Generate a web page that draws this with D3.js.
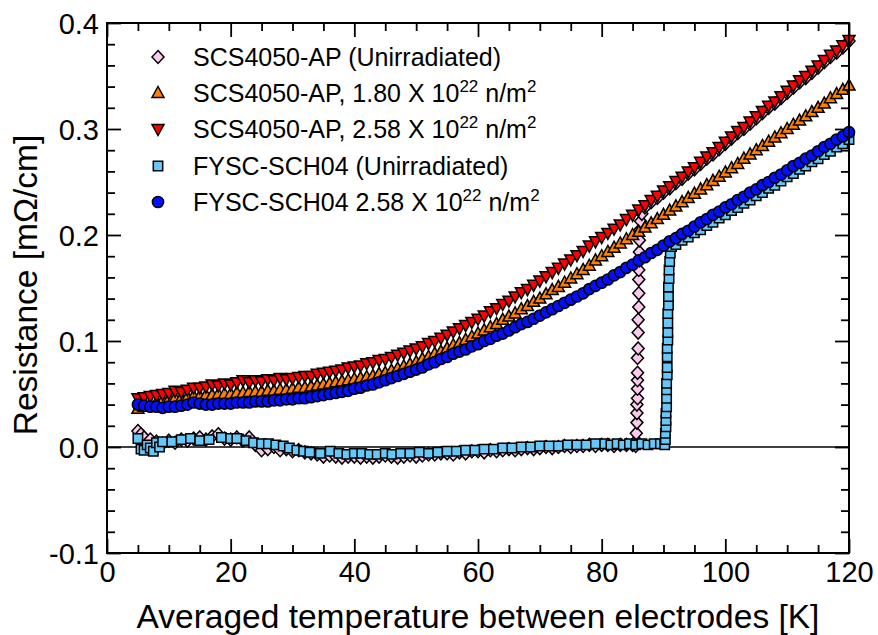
<!DOCTYPE html>
<html lang="en">
<head>
<meta charset="UTF-8">
<title>Resistance vs temperature</title>
<script src="https://d3js.org/d3.v7.min.js"></script>
<style>
  body { margin: 0; background: #fff; }
  svg { display: block; font-family: "Liberation Sans", Arial, Helvetica, sans-serif; }
  .axis path { display: none; }
  .axis line { stroke: #000; stroke-width: 1.8px; }
  .axis text { font-size: 29px; fill: #000; font-family: "Liberation Sans", Arial, sans-serif; }
  .title { font-size: 33.5px; fill: #000; }
  .legend text { font-size: 25px; fill: #000; }
  .pt { stroke: #000; stroke-width: 1.5px; }
</style>
</head>
<body>
<svg width="878" height="635"></svg>
<script>
// [temperature K, resistance mOhm/cm]
const scsUnirr = [
  [5,.015],[5.5,.012],[6,.009],[7,.007],[8,.005],[9,.003],[10,.006],[11,.004],[12,.007],[13,.006],
  [14,.008],[15,.009],[16,.007],[17,.010],[18,.012],[19,.008],[20,.007],[21,.009],[22,.006],[23,.009],
  [24,.002],[25,-.003],[26,-.002],[27,.000],[28,-.003],[29,-.002],[30,-.004],[31,-.003],[32,-.005],[33,-.006],
  [34,-.007],[35,-.009],[36,-.008],[37,-.009],[38,-.010],[39,-.009],[40,-.009],[41,-.010],[42,-.009],[43,-.010],
  [44,-.009],[45,-.008],[46,-.009],[47,-.010],[48,-.009],[49,-.008],[50,-.009],[51,-.008],[52,-.007],[53,-.007],
  [54,-.006],[55,-.006],[56,-.007],[57,-.005],[58,-.006],[59,-.004],[60,-.004],[61,-.005],[62,-.003],[63,-.004],
  [64,-.003],[65,-.002],[66,-.003],[67,-.002],[68,-.001],[69,-.002],[70,-.001],[71,.000],[72,-.001],[73,.000],
  [74,.001],[75,.000],[76,.001],[77,.001],[78,.002],[79,.001],[80,.002],[81,.002],[82,.001],[83,.002],
  [84,.002],[85,.002],[85.5,.001],
  [85.6,.006],[85.6,.013],[85.7,.023],[85.7,.032],[85.7,.040],[85.8,.046],[85.8,.055],[85.8,.063],[85.8,.070],
  [85.8,.084],[85.9,.093],[85.9,.108],[85.9,.120],[86.0,.132],[86.0,.145],[86.0,.158],[86.0,.167],[86.1,.176],
  [86.1,.184],[86.1,.195],[86.2,.205],[86.3,.213],[86.5,.220],
  [87,.226],[88,.231],[89,.235],[90,.240],[91,.244],[92,.249],[93,.253],[94,.258],[95,.262],[96,.267],
  [97,.272],[98,.276],[99,.281],[100,.286],[101,.291],[102,.296],[103,.300],[104,.305],[105,.310],[106,.315],
  [107,.320],[108,.324],[109,.329],[110,.334],[111,.339],[112,.344],[113,.348],[114,.353],[115,.358],[116,.363],
  [117,.368],[118,.372],[119,.377],[120,.383]
];

const scs180 = [
  [5,.036],[6,.038],[7,.040],[8,.042],[9,.044],[10,.045],[11,.046],[12,.046],[13,.047],[14,.048],
  [15,.048],[16,.049],[17,.049],[18,.050],[19,.050],[20,.050],[21,.051],[22,.051],[23,.052],[24,.052],
  [25,.052],[26,.053],[27,.053],[28,.054],[29,.054],[30,.055],[31,.056],[32,.056],[33,.057],[34,.058],
  [35,.059],[36,.060],[37,.061],[38,.062],[39,.063],[40,.064],[41,.065],[42,.066],[43,.067],[44,.069],
  [45,.070],[46,.072],[47,.074],[48,.076],[49,.078],[50,.080],[51,.083],[52,.085],[53,.088],[54,.090],
  [55,.093],[56,.096],[57,.098],[58,.101],[59,.104],[60,.107],[61,.110],[62,.113],[63,.116],[64,.120],
  [65,.123],[66,.126],[67,.130],[68,.133],[69,.137],[70,.140],[71,.144],[72,.148],[73,.151],[74,.155],
  [75,.159],[76,.163],[77,.167],[78,.171],[79,.176],[80,.180],[81,.184],[82,.188],[83,.192],[84,.196],
  [85,.200],[86,.203],[87,.207],[88,.211],[89,.215],[90,.219],[91,.223],[92,.227],[93,.231],[94,.235],
  [95,.239],[96,.243],[97,.247],[98,.251],[99,.255],[100,.259],[101,.263],[102,.267],[103,.272],[104,.276],
  [105,.280],[106,.284],[107,.288],[108,.292],[109,.296],[110,.300],[111,.304],[112,.308],[113,.312],[114,.316],
  [115,.320],[116,.324],[117,.329],[118,.333],[119,.337],[120,.341]
];

const scs258 = [
  [5,.046],[6,.047],[7,.048],[8,.049],[9,.050],[10,.051],[11,.053],[12,.052],[13,.054],[14,.056],
  [15,.056],[16,.057],[17,.059],[18,.058],[19,.060],[20,.059],[21,.061],[22,.063],[23,.061],[24,.063],
  [25,.062],[26,.064],[27,.063],[28,.065],[29,.064],[30,.065],[31,.066],[32,.067],[33,.067],[34,.069],
  [35,.070],[36,.071],[37,.072],[38,.073],[39,.075],[40,.076],[41,.077],[42,.079],[43,.080],[44,.082],
  [45,.083],[46,.085],[47,.087],[48,.089],[49,.091],[50,.093],[51,.095],[52,.098],[53,.100],[54,.103],
  [55,.106],[56,.109],[57,.112],[58,.115],[59,.118],[60,.121],[61,.124],[62,.128],[63,.131],[64,.135],
  [65,.138],[66,.142],[67,.146],[68,.149],[69,.153],[70,.157],[71,.161],[72,.165],[73,.169],[74,.173],
  [75,.177],[76,.181],[77,.185],[78,.190],[79,.194],[80,.198],[81,.202],[82,.206],[83,.210],[84,.215],
  [85,.219],[86,.224],[87,.228],[88,.233],[89,.237],[90,.242],[91,.246],[92,.251],[93,.255],[94,.260],
  [95,.264],[96,.269],[97,.274],[98,.278],[99,.283],[100,.288],[101,.293],[102,.298],[103,.302],[104,.307],
  [105,.312],[106,.317],[107,.322],[108,.326],[109,.331],[110,.336],[111,.341],[112,.346],[113,.350],[114,.355],
  [115,.360],[116,.365],[117,.370],[118,.374],[119,.379],[120,.384]
];

const fyscUnirr = [
  [5,.008],[5.5,-.002],[6,-.003],[6.5,.002],[7,-.001],[7.5,-.004],[8,.004],[8.5,.000],[9,.005],[10.5,.005],
  [12,.007],[13.5,.008],[15,.006],[16.5,.007],[18.5,.009],[20,.008],[21,.008],[22.5,.006],[23.7,.004],[25,.003],
  [26.1,.003],[27.3,.002],[28.5,.001],[29.5,-.001],[30.7,-.003],[31.8,-.004],[32.8,-.005],[34.5,-.006],[36.1,-.004],[37.5,-.006],
  [38.8,-.007],[40,-.006],[41.2,-.006],[42.5,-.007],[43.7,-.007],[45,-.006],[46.1,-.007],[47.5,-.006],[49,-.006],[50.5,-.005],
  [52,-.006],[53.5,-.005],[55,-.004],[56.5,-.004],[58,-.003],[59.5,-.003],[61,-.002],[62.5,-.002],[64,-.001],[65.5,-.001],
  [67,.000],[68.5,.000],[70,.001],[71.5,.001],[73,.001],[74.5,.002],[76,.002],[77.5,.002],[79,.003],[80.5,.003],
  [81.5,.002],[82.5,.003],[83.5,.002],[84.5,.003],[85.5,.002],[86.5,.003],[87.5,.002],[88.5,.003],[89.5,.003],[90.2,.002],
  [90.3,.007],[90.3,.013],[90.4,.019],[90.4,.025],[90.4,.032],[90.5,.038],[90.5,.046],[90.5,.054],[90.5,.060],[90.6,.068],
  [90.6,.075],[90.6,.085],[90.6,.093],[90.7,.101],[90.7,.108],[90.7,.117],[90.7,.126],[90.8,.134],[90.8,.142],[90.8,.151],
  [90.9,.159],[90.9,.167],[91.0,.175],[91.1,.183],[91.3,.189],
  [92,.191],[93,.195],[94,.198],[95,.202],[96,.205],[97,.209],[98,.212],[99,.216],[100,.219],[101,.223],
  [102,.226],[103,.230],[104,.233],[105,.237],[106,.240],[107,.244],[108,.247],[109,.251],[110,.255],[111,.258],
  [112,.262],[113,.265],[114,.269],[115,.272],[116,.276],[117,.279],[118,.283],[119,.286],[120,.290]
];

const fysc258 = [
  [5,.040],[6,.039],[7,.038],[8,.038],[9,.037],[10,.038],[11,.038],[12,.039],[13,.040],[14,.042],
  [15,.041],[16,.040],[17,.040],[18,.041],[19,.041],[20,.041],[21,.042],[22,.042],[23,.042],[24,.043],
  [25,.043],[26,.043],[27,.044],[28,.044],[29,.045],[30,.045],[31,.046],[32,.046],[33,.047],[34,.048],
  [35,.049],[36,.050],[37,.051],[38,.052],[39,.053],[40,.055],[41,.056],[42,.058],[43,.059],[44,.061],
  [45,.063],[46,.065],[47,.067],[48,.069],[49,.071],[50,.073],[51,.075],[52,.078],[53,.080],[54,.083],
  [55,.085],[56,.088],[57,.090],[58,.092],[59,.095],[60,.097],[61,.100],[62,.102],[63,.105],[64,.107],
  [65,.110],[66,.113],[67,.116],[68,.118],[69,.121],[70,.124],[71,.127],[72,.130],[73,.133],[74,.136],
  [75,.139],[76,.142],[77,.145],[78,.149],[79,.152],[80,.155],[81,.158],[82,.162],[83,.165],[84,.169],
  [85,.172],[86,.176],[87,.179],[88,.183],[89,.186],[90,.190],[91,.194],[92,.197],[93,.201],[94,.204],
  [95,.208],[96,.212],[97,.215],[98,.219],[99,.222],[100,.226],[101,.229],[102,.233],[103,.236],[104,.240],
  [105,.243],[106,.247],[107,.250],[108,.254],[109,.257],[110,.261],[111,.265],[112,.268],[113,.272],[114,.275],
  [115,.279],[116,.283],[117,.286],[118,.290],[119,.293],[120,.297]
];

const xTicks = [0, 20, 40, 60, 80, 100, 120];
const yTicks = [-0.1, 0.0, 0.1, 0.2, 0.3, 0.4];

// legend entries: label text, superscript pieces
const series = [
  { data: scsUnirr,  shape: "diamond", fill: "#fcc8ec", label: ["SCS4050-AP (Unirradiated)"] },
  { data: scs180,    shape: "up",      fill: "#ff8000", label: ["SCS4050-AP, 1.80 X 10", "22", " n/m", "2"] },
  { data: scs258,    shape: "down",    fill: "#ff0000", label: ["SCS4050-AP, 2.58 X 10", "22", " n/m", "2"] },
  { data: fyscUnirr, shape: "square",  fill: "#66c8f8", label: ["FYSC-SCH04 (Unirradiated)"] },
  { data: fysc258,   shape: "circle",  fill: "#0010ff", label: ["FYSC-SCH04 2.58 X 10", "22", " n/m", "2"] }
];

const svg = d3.select("svg");
const pLeft = 107, pRight = 849, pTop = 23, pBottom = 553;

const x = d3.scaleLinear().domain([0, 120]).range([pLeft, pRight]);
const y = d3.scaleLinear().domain([-0.1, 0.4]).range([pBottom, pTop]);

const xMinor = d3.range(0, 121, 5).filter(v => v % 20 !== 0);
const yMinor = d3.range(-10, 41, 2).filter(v => v % 10 !== 0).map(v => v / 100);

function addAxis(axisFn, scale, tr, ticks, size, labels) {
  const a = axisFn(scale).tickValues(ticks).tickSizeInner(-size).tickSizeOuter(0);
  if (labels) a.tickFormat(labels).tickPadding(8);
  else a.tickFormat("");
  return svg.append("g").attr("class", "axis").attr("transform", tr).call(a);
}

// minor ticks
addAxis(d3.axisBottom, x, `translate(0,${pBottom})`, xMinor, 8);
addAxis(d3.axisTop, x, `translate(0,${pTop})`, xMinor, 8);
addAxis(d3.axisLeft, y, `translate(${pLeft},0)`, yMinor, 8);
addAxis(d3.axisRight, y, `translate(${pRight},0)`, yMinor, 8);
// major ticks
addAxis(d3.axisBottom, x, `translate(0,${pBottom})`, xTicks, 14, d => d3.format("d")(d));
addAxis(d3.axisTop, x, `translate(0,${pTop})`, xTicks, 14);
addAxis(d3.axisLeft, y, `translate(${pLeft},0)`, yTicks, 14, d => d.toFixed(1)).selectAll("text").attr("dy", "0.36em");
addAxis(d3.axisRight, y, `translate(${pRight},0)`, yTicks, 14);

// zero line
svg.append("line")
  .attr("x1", x(0)).attr("x2", x(120))
  .attr("y1", y(0)).attr("y2", y(0))
  .attr("stroke", "#000").attr("stroke-width", 1.3);

function shapePath(kind) {
  switch (kind) {
    case "diamond": return "M0,-6.5L6,0L0,6.5L-6,0Z";
    case "up": return "M0,-6.5L6,4.5L-6,4.5Z";
    case "down": return "M0,6.5L6,-4.5L-6,-4.5Z";
    case "square": return "M-4.7,-4.7H4.7V4.7H-4.7Z";
  }
}

function drawMarker(sel, s) {
  if (s.shape === "circle") {
    sel.append("circle").attr("r", 5.6).attr("class", "pt").attr("fill", s.fill);
  } else {
    sel.append("path").attr("d", shapePath(s.shape)).attr("class", "pt").attr("fill", s.fill);
  }
}

const plot = svg.append("g");
series.forEach(s => {
  const g = plot.append("g");
  g.selectAll("g")
    .data(s.data)
    .join("g")
    .attr("transform", d => `translate(${x(d[0])},${y(d[1])})`)
    .each(function () { drawMarker(d3.select(this), s); });
});

// frame
svg.append("rect")
  .attr("x", pLeft).attr("y", pTop)
  .attr("width", pRight - pLeft).attr("height", pBottom - pTop)
  .attr("fill", "none").attr("stroke", "#000").attr("stroke-width", 2);

// legend
const legendY = [57, 93, 129, 166, 202];
const legend = svg.append("g").attr("class", "legend");
series.forEach((s, i) => {
  const row = legend.append("g").attr("transform", `translate(0,${legendY[i]})`);
  drawMarker(row.append("g").attr("transform", "translate(158,0)"), s);
  const t = row.append("text").attr("x", 193).attr("y", 9);
  t.append("tspan").text(s.label[0]);
  if (s.label.length > 1) {
    t.append("tspan").attr("font-size", "17px").attr("dy", -10).text(s.label[1]);
    t.append("tspan").attr("dy", 10).text(s.label[2]);
    t.append("tspan").attr("font-size", "17px").attr("dy", -10).text(s.label[3]);
  }
});

// axis titles
svg.append("text")
  .attr("class", "title")
  .attr("x", (pLeft + pRight) / 2).attr("y", 628)
  .attr("text-anchor", "middle")
  .text("Averaged temperature between electrodes [K]");

svg.append("text")
  .attr("class", "title")
  .attr("transform", `translate(37,${(pTop + pBottom) / 2 - 3}) rotate(-90)`)
  .attr("text-anchor", "middle")
  .text("Resistance [mΩ/cm]");
</script>
</body>
</html>
